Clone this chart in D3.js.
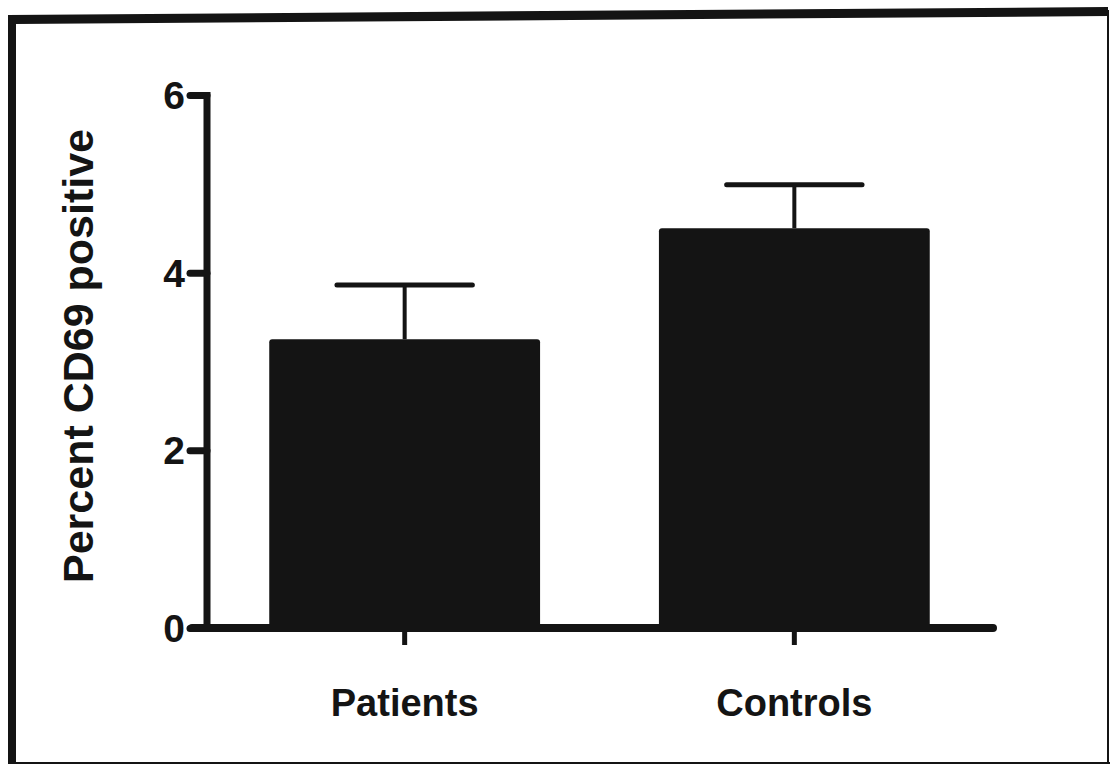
<!DOCTYPE html>
<html>
<head>
<meta charset="utf-8">
<script src="https://cdn.jsdelivr.net/npm/d3@7"></script>
<style>
  html, body { margin: 0; padding: 0; background: #fff; }
  svg { display: block; }
  text { font-family: "Liberation Sans", Arial, sans-serif; font-weight: bold; fill: #141414; }
</style>
</head>
<body>
<svg id="chart" width="1110" height="764"></svg>
<script>
// ---- data ----
const categories = ["Patients", "Controls"];
const means = [3.25, 4.50];
const errors = [0.61, 0.49];
const yTicks = [0, 2, 4, 6];
const yLabel = "Percent CD69 positive";

const svg = d3.select("#chart");
const ink = "#141414";

// frame (scanned border)
svg.append("path")
  .attr("d", "M8,15 L1108,7 L1108,16 L16,24 L16,764 L8,764 Z")
  .attr("fill", ink);
svg.append("line").attr("x1", 1108).attr("x2", 1108).attr("y1", 10).attr("y2", 764)
  .attr("stroke", ink).attr("stroke-width", 2);
svg.append("line").attr("x1", 8).attr("x2", 1110).attr("y1", 763).attr("y2", 763)
  .attr("stroke", ink).attr("stroke-width", 2);

// scales
const y = d3.scaleLinear().domain([0, 6]).range([628, 95]);
const x = d3.scaleBand().domain(categories).range([203, 996])
  .paddingInner(0.305).paddingOuter(0.17);

// bars
svg.selectAll("rect.bar").data(categories).join("rect")
  .attr("class", "bar")
  .attr("x", d => x(d))
  .attr("width", x.bandwidth())
  .attr("y", (d, i) => y(means[i]))
  .attr("height", (d, i) => y(0) - y(means[i]) + 4)
  .attr("rx", 3)
  .attr("fill", ink);

// error bars
const capHalf = x.bandwidth() * 0.25;
categories.forEach((c, i) => {
  const cx = x(c) + x.bandwidth() / 2;
  svg.append("line")
    .attr("x1", cx).attr("x2", cx)
    .attr("y1", y(means[i])).attr("y2", y(means[i] + errors[i]))
    .attr("stroke", ink).attr("stroke-width", 4);
  svg.append("line")
    .attr("x1", cx - capHalf).attr("x2", cx + capHalf)
    .attr("y1", y(means[i] + errors[i])).attr("y2", y(means[i] + errors[i]))
    .attr("stroke", ink).attr("stroke-width", 5).attr("stroke-linecap", "round");
});

// y axis
const axisX = 207;
const yAxis = d3.axisLeft(y).tickValues(yTicks).tickFormat(d3.format("d"))
  .tickSize(17).tickSizeOuter(0).tickPadding(5);
const gy = svg.append("g").attr("transform", `translate(${axisX},0)`).call(yAxis);
gy.select(".domain").remove();
gy.selectAll(".tick line").attr("stroke", ink).attr("stroke-width", 7).attr("stroke-linecap", "round");
gy.selectAll(".tick text").style("font-size", "39px").attr("fill", ink).attr("dy", "0.35em");
svg.append("line")
  .attr("x1", axisX).attr("x2", axisX)
  .attr("y1", y(6) - 3).attr("y2", y(0))
  .attr("stroke", ink).attr("stroke-width", 7);

// x axis
const gx = svg.append("g").attr("transform", `translate(0,${y(0)})`)
  .call(d3.axisBottom(x).tickSize(17).tickSizeOuter(0).tickPadding(44));
gx.select(".domain").remove();
gx.selectAll(".tick line").attr("stroke", ink).attr("stroke-width", 5);
gx.selectAll(".tick text").style("font-size", "38px").attr("fill", ink).attr("dy", "0.71em");
svg.append("line")
  .attr("x1", 192).attr("x2", 993)
  .attr("y1", y(0)).attr("y2", y(0))
  .attr("stroke", ink).attr("stroke-width", 8).attr("stroke-linecap", "round");

// y label
svg.append("text")
  .attr("transform", "translate(93,356) rotate(-90)")
  .attr("text-anchor", "middle")
  .style("font-size", "43px")
  .text(yLabel);
</script>
</body>
</html>
